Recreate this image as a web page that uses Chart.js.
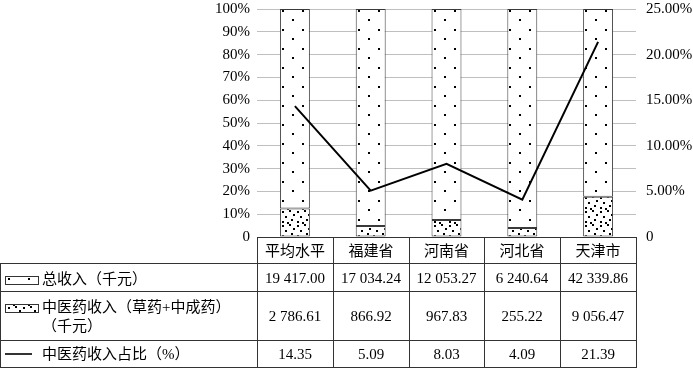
<!DOCTYPE html>
<html>
<head>
<meta charset="utf-8">
<script src="https://cdn.jsdelivr.net/npm/chart.js@4.4.1/dist/chart.umd.min.js"></script>
<style>
  html, body { margin: 0; padding: 0; background: #fff; }
  #wrap { position: relative; width: 693px; height: 369px; overflow: hidden; }
  #chart { position: absolute; left: 0; top: -10px; }
  .ln { position: absolute; background: #333; }
  .txt { position: absolute; font-family: "Liberation Serif", "Noto Sans CJK SC", serif; font-size: 15px; color: #000; white-space: nowrap; line-height: 18px; }
  .c { transform: translate(-50%, -50%); text-align: center; }
  .l { transform: translate(0, -50%); }
  canvas.sw { position: absolute; }
</style>
</head>
<body>
<div id="wrap">
  <canvas id="chart" width="693" height="379"></canvas>
</div>
<script>
// ---- data ----
const categories = ['平均水平', '福建省', '河南省', '河北省', '天津市'];
const totalIncome = [19417.00, 17034.24, 12053.27, 6240.64, 42339.86];   // 千元
const tcmIncome = [2786.61, 866.92, 967.83, 255.22, 9056.47];            // 千元
const tcmShare = [14.35, 5.09, 8.03, 4.09, 21.39];                        // %
const seriesNames = ['总收入（千元）', '中医药收入（草药+中成药）', '中医药收入占比（%）'];
const seriesNameExtra = '（千元）';
const leftTickMax = 100, leftTickStep = 10;
const rightTickMax = 25, rightTickStep = 5;

// 100% stacked shares of each bar segment
const sums = totalIncome.map((v, i) => v + tcmIncome[i]);
const totalPct = totalIncome.map((v, i) => v / sums[i] * 100);
const tcmPct = tcmIncome.map((v, i) => v / sums[i] * 100);

const CANVAS_SHIFT = 10;

// ---- patterns ----
function makeTile(w, h, dots) {
  const c = document.createElement('canvas');
  c.width = w; c.height = h;
  const x = c.getContext('2d');
  x.fillStyle = '#fff'; x.fillRect(0, 0, w, h);
  x.fillStyle = '#000';
  dots.forEach(d => x.fillRect(d[0], d[1], 2, 2));
  return c;
}
const sparseTile = makeTile(20, 19, [[1, 0], [11, 9]]);
const denseTile = makeTile(15, 14, [[1, 1], [8, 0], [12, 4], [4, 6], [10, 9], [1, 11], [6, 12]]);
const ctx = document.getElementById('chart').getContext('2d');
const BAR_PCT = 0.395;

function barPattern(tile, anchorTop) {
  const cache = {};
  return (c) => {
    const chart = c.chart;
    const a = chart.chartArea;
    if (!a || !chart.scales.x) return '#fff';
    const i = c.dataIndex;
    const w = (a.right - a.left) / categories.length * BAR_PCT;
    const left = Math.round(chart.scales.x.getPixelForValue(i) - w / 2);
    const top = Math.round(anchorTop ? a.top : a.bottom);
    const key = left + '_' + top;
    if (!cache[key]) {
      const p = chart.ctx.createPattern(tile, 'repeat');
      p.setTransform(new DOMMatrix().translate(left + 1, top + 1));
      cache[key] = p;
    }
    return cache[key];
  };
}

const serif = 'Liberation Serif';

const tablePlugin = {
  id: 'tablePlugin',
  afterRender(chart) {
    if (chart._tableDone) return;
    chart._tableDone = true;
    const wrap = document.getElementById('wrap');
    const a = chart.chartArea;
    const top = Math.round(a.bottom - CANVAS_SHIFT);
    const rows = [top, 263, 291, 340, 367];
    const colW = (a.right - a.left) / categories.length;
    const cols = [];
    for (let i = 0; i <= categories.length; i++) cols.push(Math.round(a.left + i * colW));
    function line(x, y, w, h) {
      const d = document.createElement('div'); d.className = 'ln';
      d.style.left = x + 'px'; d.style.top = y + 'px'; d.style.width = w + 'px'; d.style.height = h + 'px';
      wrap.appendChild(d);
    }
    function text(s, x, y, cls) {
      const d = document.createElement('div'); d.className = 'txt ' + cls;
      d.style.left = x + 'px'; d.style.top = y + 'px'; d.textContent = s;
      wrap.appendChild(d);
    }
    const right = cols[cols.length - 1];
    line(cols[0], top, right - cols[0] + 1, 1);
    for (let r = 1; r < rows.length; r++) line(0, rows[r], right + 1, 1);
    line(0, rows[1], 1, rows[4] - rows[1] + 1);
    cols.forEach(x => line(x, top, 1, rows[4] - top + 1));
    const fmt = v => {
      const s = v.toFixed(2).split('.');
      return s[0].replace(/\B(?=(\d{3})+(?!\d))/g, ' ') + '.' + s[1];
    };
    categories.forEach((c, i) => {
      const cx = (cols[i] + cols[i + 1]) / 2;
      text(c, cx, 251, 'c');
      text(fmt(totalIncome[i]), cx, 278, 'c');
      text(fmt(tcmIncome[i]), cx, 316, 'c');
      text(tcmShare[i].toFixed(2), cx, 354, 'c');
    });
    text(seriesNames[0], 42, 279, 'l');
    text(seriesNames[1], 42, 307, 'l');
    text(seriesNameExtra, 42, 326, 'l');
    text(seriesNames[2], 42, 354, 'l');
    function swatch(y, tile) {
      const c = document.createElement('canvas'); c.className = 'sw';
      c.width = 34; c.height = 9; c.style.left = '5px'; c.style.top = y + 'px';
      const g = c.getContext('2d');
      const p = g.createPattern(tile, 'repeat');
      p.setTransform(new DOMMatrix().translate(2, 2));
      g.fillStyle = p; g.fillRect(0, 0, 34, 9);
      g.strokeStyle = '#333'; g.lineWidth = 1; g.strokeRect(0.5, 0.5, 33, 8);
      wrap.appendChild(c);
    }
    swatch(276, sparseTile);
    swatch(304, denseTile);
    line(5, 353, 27, 2);
  }
};

new Chart(ctx, {
  type: 'bar',
  data: {
    labels: categories,
    datasets: [
      {
        type: 'line', label: seriesNames[2], data: tcmShare, yAxisID: 'y1',
        borderColor: '#000', borderWidth: 2, pointRadius: 0, tension: 0, fill: false, order: 0
      },
      {
        label: seriesNames[1], data: tcmPct, yAxisID: 'y', stack: 's',
        backgroundColor: barPattern(denseTile, false), borderColor: '#3a3a3a', borderWidth: 1, borderSkipped: false, order: 1,
        barPercentage: BAR_PCT, categoryPercentage: 1
      },
      {
        label: seriesNames[0], data: totalPct, yAxisID: 'y', stack: 's',
        backgroundColor: barPattern(sparseTile, true), borderColor: '#3a3a3a', borderWidth: 1, borderSkipped: false, order: 1,
        barPercentage: BAR_PCT, categoryPercentage: 1
      }
    ]
  },
  options: {
    responsive: false,
    animation: false,
    layout: { padding: { top: 0, bottom: 132, left: 0, right: 0 } },
    plugins: { legend: { display: false }, tooltip: { enabled: false } },
    scales: {
      x: { display: false, stacked: true, offset: true },
      y: {
        position: 'left', stacked: true, min: 0, max: leftTickMax,
        afterFit: s => { s.width = 257; },
        border: { display: false },
        grid: { color: '#bfbfbf', drawTicks: false, lineWidth: 1 },
        ticks: {
          stepSize: leftTickStep, padding: 7, color: '#000',
          font: { family: serif, size: 15 },
          callback: v => v === 0 ? '0' : v + '%'
        }
      },
      y1: {
        position: 'right', min: 0, max: rightTickMax,
        afterFit: s => { s.width = 57; },
        border: { display: false },
        grid: { display: false, drawTicks: false },
        ticks: {
          stepSize: rightTickStep, padding: 10, color: '#000',
          font: { family: serif, size: 15 },
          callback: v => v === 0 ? '0' : v.toFixed(2) + '%'
        }
      }
    }
  },
  plugins: [tablePlugin]
});
</script>
</body>
</html>
